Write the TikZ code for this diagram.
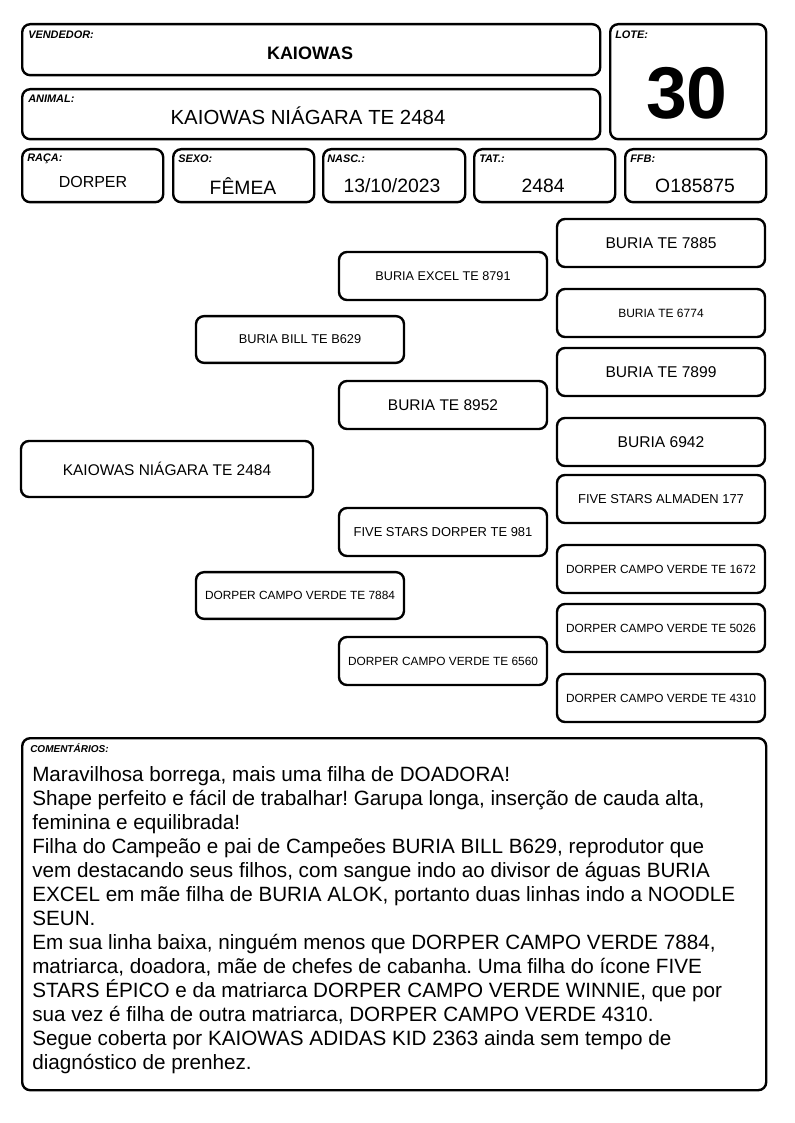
\documentclass[tikz,border=0pt]{standalone}
\usepackage{fontspec}
\setmainfont{Liberation Sans}
\usepackage{xcolor}
\definecolor{cInk}{HTML}{000000}
\usepackage{tikz}
\newcommand{\fsz}[2]{\fontsize{#1}{#2}\selectfont}
\frenchspacing
\tikzset{
  node-field/.style 2 args={draw=cInk,line width=1.8pt,rounded corners=6pt,
    anchor=north west,inner sep=0pt,minimum width=#1*0.75pt,minimum height=#2*0.75pt},
  node-ped/.style={draw=cInk,line width=1.8pt,rounded corners=6pt,inner sep=0pt,
    minimum width=156pt,minimum height=36pt,text=cInk},
  node-tag/.style={anchor=west,inner sep=0pt,text=cInk,font=\fsz{8.2pt}{8pt}\bfseries\itshape},
  node-value/.style={inner sep=0pt,text=cInk,font=\fsz{14.5pt}{15pt}},
}
\begin{document}
\begin{tikzpicture}[x=0.75pt,y=-0.75pt]
  \useasboundingbox (0,0) rectangle (794,1123);
  % cabecalho
  \node[node-field={578}{51}]  (vend) at (21,23) {};
  \node[node-field={156}{115}] (lote) at (609,23) {};
  \node[node-field={578}{50}]  (anim) at (21,88) {};
  \node[node-tag] (vend-t) at (28,35) {VENDEDOR:};
  \node[node-value,font=\fsz{13.5pt}{14pt}\bfseries] (vend-v) at (310,53) {KAIOWAS};
  \node[node-tag] (lote-t) at (615,35) {LOTE:};
  \node[node-value,font=\fsz{55pt}{56pt}\bfseries] (lote-v) at (687,93) {30};
  \node[node-tag] (anim-t) at (28,99) {ANIMAL:};
  \node[node-value,font=\fsz{15.3pt}{16pt}] (anim-v) at (308,116) {KAIOWAS NIÁGARA TE 2484};
  % linha de dados
  \node[node-field={141}{53}] (raca) at (21,148) {};
  \node[node-field={141}{53}] (sexo) at (172,148) {};
  \node[node-field={142}{53}] (nasc) at (322,148) {};
  \node[node-field={141}{53}] (tat)  at (473,148) {};
  \node[node-field={141}{53}] (ffb)  at (624,148) {};
  \node[node-tag] (raca-t) at (27,159) {RAÇA:};
  \node[node-tag] (sexo-t) at (178,159) {SEXO:};
  \node[node-tag] (nasc-t) at (327,159) {NASC.:};
  \node[node-tag] (tat-t)  at (479,159) {TAT.:};
  \node[node-tag] (ffb-t)  at (630,159) {FFB:};
  \node[node-value,font=\fsz{12pt}{12pt}] (raca-v) at (93,182) {DORPER};
  \node[node-value] (sexo-v) at (243,186) {FÊMEA};
  \node[node-value] (nasc-v) at (392,186) {13/10/2023};
  \node[node-value] (tat-v)  at (543,186) {2484};
  \node[node-value] (ffb-v)  at (695,186) {O185875};
  % genealogia
  \node[node-ped,minimum width=219pt,minimum height=42pt,font=\fsz{11.6pt}{12pt}] (ped) at (167,469) {KAIOWAS NIÁGARA TE 2484};
  \node[node-ped,minimum height=35pt,font=\fsz{9.6pt}{10pt}] (p)  at (300,339.5) {BURIA BILL TE B629};
  \node[node-ped,minimum height=35pt,font=\fsz{8.9pt}{9pt}]  (m)  at (300,595.5) {DORPER CAMPO VERDE TE 7884};
  \node[node-ped,font=\fsz{9.5pt}{10pt}]  (pp) at (443,276) {BURIA EXCEL TE 8791};
  \node[node-ped,font=\fsz{11.6pt}{12pt}] (pm) at (443,405) {BURIA TE 8952};
  \node[node-ped,font=\fsz{9.7pt}{10pt}]  (mp) at (443,532) {FIVE STARS DORPER TE 981};
  \node[node-ped,font=\fsz{8.9pt}{9pt}]   (mm) at (443,661) {DORPER CAMPO VERDE TE 6560};
  \node[node-ped,font=\fsz{11.7pt}{12pt}] (ppp) at (661,243) {BURIA TE 7885};
  \node[node-ped,font=\fsz{9pt}{9pt}]     (ppm) at (661,313) {BURIA TE 6774};
  \node[node-ped,font=\fsz{11.7pt}{12pt}] (pmp) at (661,372) {BURIA TE 7899};
  \node[node-ped,font=\fsz{11.7pt}{12pt}] (pmm) at (661,442) {BURIA 6942};
  \node[node-ped,font=\fsz{9.7pt}{10pt}]  (mpp) at (661,499) {FIVE STARS ALMADEN 177};
  \node[node-ped,font=\fsz{8.9pt}{9pt}]   (mpm) at (661,569) {DORPER CAMPO VERDE TE 1672};
  \node[node-ped,font=\fsz{8.9pt}{9pt}]   (mmp) at (661,628) {DORPER CAMPO VERDE TE 5026};
  \node[node-ped,font=\fsz{8.9pt}{9pt}]   (mmm) at (661,698) {DORPER CAMPO VERDE TE 4310};
  % comentarios
  \node[node-field={744}{352}] (coment) at (21,737) {};
  \node[node-tag,font=\fsz{7.5pt}{8pt}\bfseries\itshape] (coment-t) at (30,748) {COMENTÁRIOS:};
  \node[anchor=north west,inner sep=0pt,align=left,text=cInk,font=\fsz{15.5pt}{18pt}] (coment-v) at (32,766) {%
    Maravilhosa borrega, mais uma filha de DOADORA!\\
    Shape perfeito e fácil de trabalhar! Garupa longa, inserção de cauda alta,\\
    feminina e equilibrada!\\
    Filha do Campeão e pai de Campeões BURIA BILL B629, reprodutor que\\
    vem destacando seus filhos, com sangue indo ao divisor de águas BURIA\\
    EXCEL em mãe filha de BURIA ALOK, portanto duas linhas indo a NOODLE\\
    SEUN.\\
    Em sua linha baixa, ninguém menos que DORPER CAMPO VERDE 7884,\\
    matriarca, doadora, mãe de chefes de cabanha. Uma filha do ícone FIVE\\
    STARS ÉPICO e da matriarca DORPER CAMPO VERDE WINNIE, que por\\
    sua vez é filha de outra matriarca, DORPER CAMPO VERDE 4310.\\
    Segue coberta por KAIOWAS ADIDAS KID 2363 ainda sem tempo de\\
    diagnóstico de prenhez.};
\end{tikzpicture}
\end{document}
